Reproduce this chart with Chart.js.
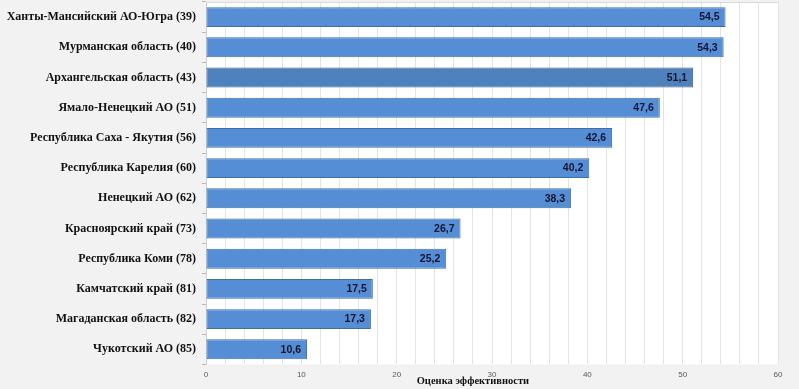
<!DOCTYPE html>
<html>
<head>
<meta charset="utf-8">
<script src="https://cdn.jsdelivr.net/npm/chart.js@4/dist/chart.umd.min.js"></script>
<style>
html,body{margin:0;padding:0;background:#f2f2f2;}
#wrap{width:799px;height:389px;position:relative;}
</style>
</head>
<body>
<div id="wrap"><canvas id="c" width="799" height="389"></canvas></div>
<script>
const categories = [
  "Ханты-Мансийский АО-Югра (39)",
  "Мурманская область (40)",
  "Архангельская область (43)",
  "Ямало-Ненецкий АО (51)",
  "Республика Саха - Якутия (56)",
  "Республика Карелия (60)",
  "Ненецкий АО (62)",
  "Красноярский край (73)",
  "Республика Коми (78)",
  "Камчатский край (81)",
  "Магаданская область (82)",
  "Чукотский АО (85)"
];
const values = [54.5, 54.3, 51.1, 47.6, 42.6, 40.2, 38.3, 26.7, 25.2, 17.5, 17.3, 10.6];
const highlighted = ["Архангельская область (43)"];
const xTickLabels = [0, 10, 20, 30, 40, 50, 60];
const axisTitle = "Оценка эффективности";

const barFill = categories.map(c => highlighted.includes(c) ? "#4f81bd" : "#558ed5");
const barBorder = categories.map(c => highlighted.includes(c) ? "#3c6494" : "#3f6ea8");

const plotBg = {
  id: 'plotBg',
  beforeDraw(chart) {
    const {ctx, chartArea: a} = chart;
    ctx.save();
    ctx.fillStyle = '#ffffff';
    ctx.fillRect(a.left, a.top, a.right - a.left, a.bottom - a.top);
    ctx.restore();
  },
  afterDatasetsDraw(chart) {
    const {ctx, chartArea: a} = chart;
    const meta = chart.getDatasetMeta(0);
    ctx.save();
    ctx.font = 'bold 10.5px "Liberation Sans", Arial, sans-serif';
    ctx.fillStyle = '#141433';
    ctx.textAlign = 'right';
    ctx.textBaseline = 'middle';
    meta.data.forEach((el, i) => {
      const txt = values[i].toFixed(1).replace('.', ',');
      ctx.fillText(txt, el.x - 6, el.y + 0.5);
    });
    // axis title
    ctx.font = 'bold 10.5px "Liberation Serif", "Times New Roman", serif';
    ctx.fillStyle = '#111111';
    ctx.textAlign = 'center';
    ctx.textBaseline = 'middle';
    const xs = chart.scales.x;
    ctx.fillText(axisTitle, xs.getPixelForValue(28), 381);
    // top border
    ctx.strokeStyle = '#d9d9d9';
    ctx.lineWidth = 1;
    ctx.beginPath();
    ctx.moveTo(a.left, a.top + 0.5);
    ctx.lineTo(a.right, a.top + 0.5);
    ctx.stroke();
    ctx.restore();
  }
};

new Chart(document.getElementById('c'), {
  type: 'bar',
  data: {
    labels: categories,
    datasets: [{
      data: values,
      backgroundColor: barFill,
      borderColor: barBorder,
      borderWidth: 1,
      borderSkipped: false,
      categoryPercentage: 0.66,
      barPercentage: 1.0
    }]
  },
  options: {
    indexAxis: 'y',
    responsive: false,
    animation: false,
    layout: {padding: {top: 2, right: 21, bottom: 3, left: 0}},
    plugins: {legend: {display: false}, tooltip: {enabled: false}},
    scales: {
      x: {
        min: 0, max: 60,
        ticks: {
          stepSize: 2,
          autoSkip: false,
          maxRotation: 0,
          padding: 6,
          color: '#595959',
          font: {family: '"Liberation Sans", Arial, sans-serif', size: 8},
          callback: v => xTickLabels.includes(v) ? String(v) : ''
        },
        grid: {color: '#e3e3e3', drawTicks: false},
        border: {display: false}
      },
      y: {
        afterFit(s) { s.width = 206; s.paddingTop = 0; s.paddingBottom = 0; },
        ticks: {
          padding: 6,
          color: '#111111',
          font: {family: '"Liberation Serif", "Times New Roman", serif', size: 12, weight: 'bold'},
          autoSkip: false
        },
        grid: {offset: true, drawOnChartArea: false, drawTicks: true, tickLength: 4, color: '#b8b8b8'},
        border: {display: true, color: '#cfcfcf'}
      }
    }
  },
  plugins: [plotBg]
});
</script>
</body>
</html>
